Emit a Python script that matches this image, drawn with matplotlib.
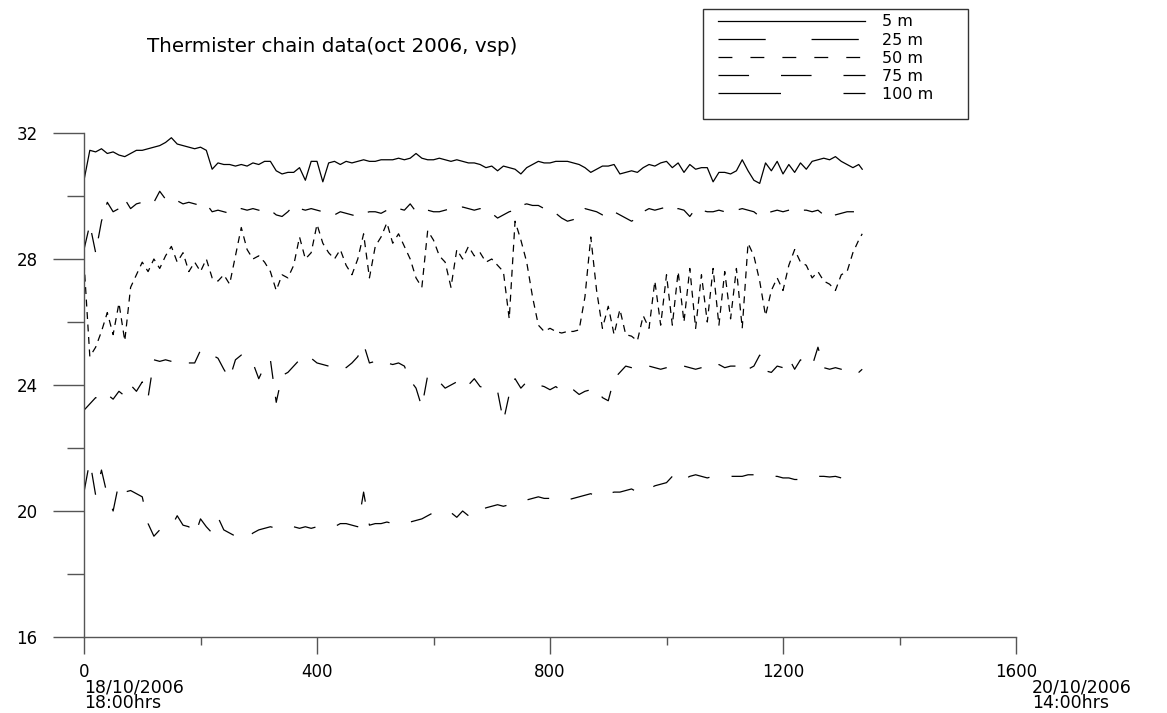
import numpy as np
import matplotlib
matplotlib.use('Agg')
import matplotlib.pyplot as plt
from matplotlib.lines import Line2D
from matplotlib.patches import Rectangle

plt.rcParams['font.family'] = ['DejaVu Sans']
plt.rcParams['lines.scale_dashes'] = False

# time index (sample number) and temperatures
x = np.append(np.arange(0, 1331, 10), 1336)

t5 = [30.5, 31.45, 31.4, 31.5, 31.35, 31.4, 31.3, 31.25, 31.35, 31.45,
      31.45, 31.5, 31.55, 31.6, 31.7, 31.85, 31.65, 31.6, 31.55, 31.5,
      31.55, 31.45, 30.85, 31.05, 31.0, 31.0, 30.95, 31.0, 30.95, 31.05,
      31.0, 31.1, 31.1, 30.8, 30.7, 30.75, 30.75, 30.9, 30.5, 31.1,
      31.1, 30.45, 31.05, 31.1, 31.0, 31.1, 31.05, 31.1, 31.15, 31.1,
      31.1, 31.15, 31.15, 31.15, 31.2, 31.15, 31.2, 31.35, 31.2, 31.15,
      31.15, 31.2, 31.15, 31.1, 31.15, 31.1, 31.05, 31.05, 31.0, 30.9,
      30.95, 30.8, 30.95, 30.9, 30.85, 30.7, 30.9, 31.0, 31.1, 31.05,
      31.05, 31.1, 31.1, 31.1, 31.05, 31.0, 30.9, 30.75, 30.85, 30.95,
      30.95, 31.0, 30.7, 30.75, 30.8, 30.75, 30.9, 31.0, 30.95, 31.05,
      31.1, 30.9, 31.05, 30.75, 31.0, 30.85, 30.9, 30.9, 30.45, 30.75,
      30.75, 30.7, 30.8, 31.15, 30.8, 30.5, 30.4, 31.05, 30.8, 31.1,
      30.7, 31.0, 30.75, 31.05, 30.85, 31.1, 31.15, 31.2, 31.15, 31.25,
      31.1, 31.0, 30.9, 31.0, 30.85]

t25 = [28.3, 29.1, 28.2, 29.2, 29.8, 29.5, 29.6, 29.9, 29.6, 29.75,
       29.8, 29.85, 29.8, 30.15, 29.9, 29.8, 29.85, 29.75, 29.8, 29.75,
       29.7, 29.75, 29.5, 29.55, 29.5, 29.45, 29.55, 29.6, 29.55, 29.6,
       29.55, 29.5, 29.55, 29.4, 29.35, 29.5, 29.7, 29.6, 29.55, 29.6,
       29.55, 29.5, 29.45, 29.4, 29.5, 29.45, 29.4, 29.35, 29.45, 29.5,
       29.5, 29.45, 29.55, 29.5, 29.6, 29.55, 29.75, 29.5, 29.55, 29.55,
       29.5, 29.5, 29.55, 29.6, 29.6, 29.65, 29.6, 29.55, 29.6, 29.5,
       29.45, 29.3, 29.4, 29.5, 29.55, 29.7, 29.75, 29.7, 29.7, 29.6,
       29.5, 29.45, 29.3, 29.2, 29.25, 29.4, 29.6, 29.55, 29.5, 29.4,
       29.35, 29.5, 29.4, 29.3, 29.2, 29.3, 29.5, 29.6, 29.55, 29.6,
       29.65, 29.55, 29.6, 29.55, 29.35, 29.6, 29.55, 29.5, 29.5, 29.55,
       29.5, 29.5, 29.55, 29.6, 29.55, 29.5, 29.35, 29.45, 29.5, 29.55,
       29.5, 29.55, 29.6, 29.55, 29.55, 29.5, 29.55, 29.4, 29.3, 29.4,
       29.45, 29.5, 29.5, 29.5, 29.5]

t50 = [27.9, 24.9, 25.2, 25.7, 26.3, 25.6, 26.6, 25.4, 27.1, 27.5,
       27.9, 27.6, 28.0, 27.7, 28.1, 28.4, 27.9, 28.2, 27.6, 27.9,
       27.6, 28.0, 27.4, 27.3, 27.5, 27.2, 28.1, 29.0, 28.3, 28.0,
       28.1, 27.9, 27.6, 27.0, 27.5, 27.4, 27.8, 28.7, 28.0, 28.2,
       29.1, 28.5, 28.2, 28.0, 28.3, 27.8, 27.5, 28.0, 28.8, 27.4,
       28.4, 28.7, 29.15, 28.5, 28.8, 28.4, 28.0, 27.4, 27.1, 28.9,
       28.6, 28.1, 27.9, 27.1, 28.3, 28.0, 28.4, 28.1, 28.2, 27.9,
       28.0, 27.8, 27.6, 26.1, 29.2, 28.6, 27.9, 26.8, 25.9, 25.7,
       25.8, 25.7, 25.65, 25.7, 25.7, 25.75, 26.8, 28.7, 27.0, 25.8,
       26.5, 25.6, 26.4, 25.6, 25.55, 25.4, 26.2, 25.8, 27.3, 25.9,
       27.5, 25.9, 27.6, 26.0, 27.7, 25.8, 27.5, 26.0, 27.7, 25.9,
       27.6, 26.1, 27.7, 25.8, 28.5, 28.1, 27.3, 26.2, 27.0, 27.4,
       27.0, 27.8, 28.3, 27.9, 27.8, 27.4, 27.6, 27.3, 27.2, 27.0,
       27.5, 27.6, 28.2, 28.6, 28.8]

t75 = [23.2, 23.4, 23.6, 23.5, 23.7, 23.55, 23.8, 23.65, 24.0, 23.8,
       24.1, 23.6, 24.8, 24.75, 24.8, 24.75, 24.7, 24.65, 24.7, 24.7,
       25.1, 25.05, 24.95, 24.85, 24.5, 24.2, 24.8, 24.95, 24.85, 24.7,
       24.2, 24.6, 24.8, 23.45, 24.3, 24.4, 24.6, 24.8, 24.7, 24.85,
       24.7, 24.65, 24.6, 24.6, 24.65, 24.55, 24.7, 24.9, 25.3, 24.7,
       24.75, 24.8, 24.7, 24.65, 24.7, 24.6, 24.15, 23.9, 23.3, 24.3,
       24.2, 24.1, 23.9, 24.0, 24.1, 23.9, 24.0, 24.2, 23.95, 23.9,
       23.85, 23.8, 22.85, 23.7, 24.2, 23.9, 24.1, 24.05, 24.0, 23.95,
       23.85, 23.95, 23.8, 23.9, 23.85, 23.7, 23.8, 23.85, 23.9, 23.6,
       23.5, 24.2, 24.4, 24.6, 24.55, 24.5, 24.55, 24.6, 24.55, 24.5,
       24.55, 24.6, 24.55, 24.6, 24.55, 24.5, 24.55, 24.6, 24.55, 24.65,
       24.55, 24.6, 24.6, 24.7, 24.5, 24.6, 24.95, 24.45, 24.4, 24.6,
       24.55, 24.85, 24.5, 24.8, 24.65, 24.6, 25.2, 24.55, 24.5, 24.55,
       24.5, 24.55, 24.5, 24.4, 24.5]

t100 = [20.6, 21.6, 20.5, 21.3, 20.5, 20.0, 20.9, 20.6, 20.65, 20.55,
        20.45, 19.6, 19.2, 19.4, 19.35, 19.5, 19.85, 19.55, 19.5, 19.2,
        19.75, 19.5, 19.3, 19.8, 19.4, 19.3, 19.2, 19.3, 19.15, 19.3,
        19.4, 19.45, 19.5, 19.45, 19.5, 19.45, 19.5, 19.45, 19.5, 19.45,
        19.5, 19.45, 19.45, 19.5, 19.6, 19.6, 19.55, 19.5, 20.6, 19.55,
        19.6, 19.6, 19.65, 19.6, 19.65, 19.7, 19.65, 19.7, 19.75, 19.85,
        19.95, 19.9, 20.0, 19.95, 19.8, 20.0, 19.85, 20.1, 20.0, 20.1,
        20.15, 20.2, 20.15, 20.2, 20.3, 20.3, 20.35, 20.4, 20.45, 20.4,
        20.4, 20.35, 20.3, 20.35, 20.4, 20.45, 20.5, 20.55, 20.45, 20.55,
        20.55, 20.6, 20.6, 20.65, 20.7, 20.6, 20.75, 20.7, 20.8, 20.85,
        20.9, 21.1, 20.85, 21.0, 21.1, 21.15, 21.1, 21.05, 21.1, 21.1,
        21.1, 21.1, 21.1, 21.1, 21.15, 21.15, 21.15, 21.15, 21.1, 21.1,
        21.05, 21.05, 21.0, 21.0, 21.05, 21.1, 21.1, 21.1, 21.08, 21.1,
        21.05, 21.05, 21.0, 20.98, 20.97]

labels = ['5 m', '25 m', '50 m', '75 m', '100 m']
y_ticks = [16, 20, 24, 28, 32]
x_ticks = [0, 400, 800, 1200, 1600]
title = 'Thermister chain data(oct 2006, vsp)'
start_date, start_time = '18/10/2006', '18:00hrs'
end_date, end_time = '20/10/2006', '14:00hrs'

W, H = 1167, 713
fig = plt.figure(figsize=(W / 100, H / 100), dpi=100)
ax = fig.add_axes([84 / W, 1 - 637 / H, (1016 - 84) / W, (637 - 133) / H])

series = [t5, t25, t50, t75, t100]
data_dashes = [None, (14, 11), (5, 4), (13, 13), (16, 16)]
leg_dashes = [None, (34, 33), (10, 13), (22, 23), (45, 45)]

for y, d in zip(series, data_dashes):
    ln, = ax.plot(x, y, color='black', lw=0.9)
    if d is not None:
        ln.set_dashes(d)

ax.set_xlim(0, 1600)
ax.set_ylim(16, 32)
ax.set_xticks(x_ticks)
ax.set_xticks([200, 600, 1000, 1400], minor=True)
ax.set_yticks(y_ticks)
ax.set_yticks([18, 22, 26, 30], minor=True)
ax.set_xticklabels([str(v) for v in x_ticks])
ax.set_yticklabels([str(v) for v in y_ticks])

for s in ['top', 'right']:
    ax.spines[s].set_visible(False)
for s in ['left', 'bottom']:
    ax.spines[s].set_color('#555555')
    ax.spines[s].set_linewidth(1.0)

ax.tick_params(axis='y', which='major', direction='out', length=22, width=1,
               color='#555555', pad=11.5, labelsize=12)
ax.tick_params(axis='y', which='minor', direction='out', length=12, width=1,
               color='#555555')
ax.tick_params(axis='x', which='major', direction='out', length=12, width=1,
               color='#555555', pad=7, labelsize=12)
ax.tick_params(axis='x', which='minor', direction='out', length=6, width=1,
               color='#555555')

fig.text(332 / W, 1 - 47 / H, title, ha='center', va='center', fontsize=14.3)
for xl, (d_txt, t_txt) in [(84, (start_date, start_time)),
                           (1032, (end_date, end_time))]:
    fig.text(xl / W, 1 - 692 / H, d_txt, ha='left', va='baseline', fontsize=12.5)
    fig.text(xl / W, 1 - 708 / H, t_txt, ha='left', va='baseline', fontsize=12.5)

# legend
handles = []
for d in leg_dashes:
    if d is None:
        handles.append(Line2D([], [], color='black', lw=0.9, linestyle='-'))
    else:
        handles.append(Line2D([], [], color='black', lw=0.9, dashes=d))
fs = 11.5
fspx = fs * 100 / 72
leg = fig.legend(handles, labels, loc='upper left',
                 bbox_to_anchor=(718 / W, 1 - 14.5 / H),
                 bbox_transform=fig.transFigure, frameon=False,
                 fontsize=fs, borderpad=0, borderaxespad=0,
                 handlelength=147 / fspx, handletextpad=17 / fspx,
                 labelspacing=0.19)
fig.add_artist(Rectangle((703 / W, 1 - 119 / H), (968 - 703) / W, (119 - 9) / H,
                         transform=fig.transFigure, fill=False,
                         edgecolor='#333333', lw=1.0))

fig.savefig('out.png', dpi=100)
